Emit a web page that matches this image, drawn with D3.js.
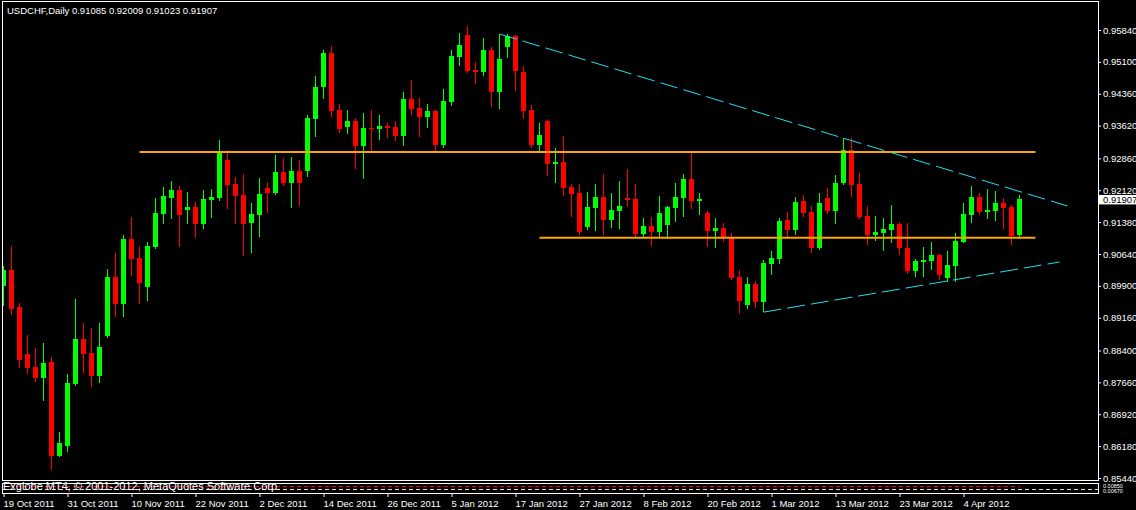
<!DOCTYPE html>
<html><head><meta charset="utf-8">
<script src="https://cdn.jsdelivr.net/npm/d3@7"></script>
<style>html,body{margin:0;padding:0;background:#000;overflow:hidden}svg{display:block}</style>
</head><body>
<svg id="c" width="1136" height="510"></svg>
<script>
const title = "USDCHF,Daily";
const opens = [
0.89897,0.90268,0.89410,0.88318,0.88017,0.87761,0.88133,0.85951,0.86183,0.87622,
0.88666,0.88341,0.87808,0.88736,0.90106,0.89479,0.90988,0.90546,0.89874,0.90803,
0.91568,0.91939,0.92125,0.91661,0.91731,0.91336,0.91893,0.91939,0.92822,0.92264,
0.92009,0.91359,0.91545,0.92171,0.92055,0.92544,0.92287,0.92567,0.92567,0.93773,
0.94517,0.95305,0.93982,0.93588,0.93727,0.93147,0.93564,0.93541,0.93611,0.93588,
0.93379,0.94238,0.94029,0.93820,0.93959,0.93170,0.94169,0.95213,0.95724,0.94911,
0.94865,0.95375,0.94401,0.95445,0.95701,0.94865,0.93982,0.93170,0.93727,0.92729,
0.92776,0.92195,0.92055,0.91267,0.91707,0.91963,0.91429,0.91638,0.91939,0.91916,
0.91104,0.91290,0.91151,0.91313,0.91707,0.91939,0.92381,0.91870,0.91591,0.91174,
0.91243,0.91011,0.90106,0.89456,0.89943,0.89526,0.90407,0.90523,0.91429,0.91197,
0.91870,0.91615,0.90779,0.91939,0.91638,0.92287,0.93054,0.92264,0.91522,0.91081,
0.91127,0.91197,0.91336,0.90779,0.90245,0.90454,0.90477,0.90616,0.90082,0.90361,
0.90919,0.91545,0.91963,0.91615,0.91638,0.91823,0.91731,0.91085];
const highs = [
0.90361,0.90826,0.89502,0.88759,0.88457,0.88573,0.88249,0.86508,0.87854,0.89595,
0.89037,0.88921,0.89037,0.90291,0.90662,0.91081,0.91499,0.90826,0.90919,0.91939,
0.92195,0.92334,0.92218,0.92079,0.91847,0.92125,0.92148,0.93286,0.93054,0.92428,
0.92497,0.91823,0.92404,0.92311,0.92938,0.92868,0.92892,0.92822,0.93866,0.94772,
0.95375,0.95468,0.94122,0.93982,0.93796,0.93912,0.93982,0.93866,0.93680,0.93727,
0.94401,0.94679,0.94261,0.94122,0.93982,0.94470,0.95375,0.95770,0.95933,0.95097,
0.95654,0.95445,0.95747,0.95747,0.95724,0.95004,0.94099,0.93680,0.93740,0.93100,
0.93379,0.92264,0.92264,0.92079,0.92264,0.92497,0.92055,0.92334,0.92613,0.92264,
0.91475,0.91499,0.91986,0.91745,0.92287,0.92497,0.92984,0.92055,0.91638,0.91475,
0.91359,0.91127,0.90268,0.90106,0.90013,0.90500,0.90709,0.91475,0.91615,0.91963,
0.92009,0.91754,0.92055,0.92171,0.92474,0.93332,0.93332,0.92520,0.91754,0.91522,
0.91475,0.91777,0.91383,0.91359,0.90523,0.90803,0.90919,0.90639,0.90709,0.91127,
0.91823,0.92218,0.92055,0.92148,0.92102,0.91939,0.91777,0.92009];
const lows = [
0.89456,0.89247,0.88017,0.87877,0.87692,0.87250,0.85648,0.85940,0.86067,0.87599,
0.87901,0.87576,0.87669,0.88713,0.89201,0.89201,0.90152,0.89502,0.89572,0.90779,
0.91359,0.91475,0.90826,0.91359,0.91035,0.91243,0.91499,0.91893,0.91707,0.91359,
0.90616,0.90686,0.91058,0.91615,0.92032,0.92241,0.91731,0.91777,0.92451,0.93379,
0.94261,0.93843,0.93472,0.93448,0.92636,0.92404,0.93031,0.93309,0.93356,0.93286,
0.93170,0.93889,0.93379,0.93588,0.93031,0.93124,0.94099,0.95027,0.94865,0.94609,
0.94795,0.94076,0.94029,0.95213,0.94447,0.93796,0.93124,0.93031,0.92474,0.92311,
0.92009,0.91522,0.91104,0.91220,0.91197,0.91104,0.91267,0.91243,0.91754,0.91058,
0.91035,0.90849,0.91035,0.91035,0.91406,0.91522,0.91707,0.91568,0.90826,0.90803,
0.90942,0.90059,0.89270,0.89386,0.89410,0.89317,0.90175,0.90430,0.91035,0.91104,
0.91522,0.90686,0.90756,0.91591,0.91359,0.92264,0.91986,0.91475,0.90872,0.90965,
0.90732,0.90919,0.90639,0.90198,0.90129,0.90129,0.90291,0.90059,0.90013,0.90013,
0.90910,0.91383,0.91568,0.91475,0.91429,0.91243,0.90872,0.91023];
const closes = [
0.90268,0.89363,0.88179,0.87993,0.87761,0.88109,0.85951,0.86252,0.87645,0.88666,
0.88318,0.87808,0.88481,0.90106,0.89479,0.90988,0.90523,0.89966,0.90826,0.91591,
0.91986,0.92125,0.91545,0.91731,0.91336,0.91916,0.91963,0.92984,0.92241,0.91986,
0.91336,0.91568,0.92032,0.92055,0.92544,0.92287,0.92567,0.92287,0.93796,0.94517,
0.95305,0.93959,0.93541,0.93727,0.93147,0.93564,0.93541,0.93611,0.93564,0.93379,
0.94238,0.94006,0.93820,0.93959,0.93170,0.94192,0.95236,0.95491,0.94888,0.94865,
0.95375,0.94401,0.95166,0.95701,0.94888,0.93959,0.93170,0.93402,0.92729,0.92776,
0.92171,0.92032,0.91151,0.91731,0.91963,0.91429,0.91661,0.91754,0.91893,0.91104,
0.91290,0.91151,0.91591,0.91731,0.91963,0.92381,0.91870,0.91916,0.91174,0.91243,
0.91035,0.90082,0.89549,0.89943,0.89526,0.90430,0.90546,0.91406,0.91197,0.91847,
0.91591,0.90779,0.91823,0.91638,0.92287,0.93054,0.92241,0.91499,0.91081,0.91151,
0.91220,0.91336,0.90779,0.90245,0.90477,0.90500,0.90616,0.90152,0.90384,0.90942,
0.91568,0.91963,0.91615,0.91661,0.91823,0.91707,0.91058,0.91907];
const dateLabels = ["19 Oct 2011","31 Oct 2011","10 Nov 2011","22 Nov 2011","2 Dec 2011","14 Dec 2011","26 Dec 2011","5 Jan 2012","17 Jan 2012","27 Jan 2012","8 Feb 2012","20 Feb 2012","1 Mar 2012","13 Mar 2012","23 Mar 2012","4 Apr 2012"];
const dateLabelBars = [0,8,16,24,32,40,48,56,64,72,80,88,96,104,112,120];
const priceTicks = [0.95840,0.95100,0.94360,0.93620,0.92860,0.92120,0.91380,0.90640,0.89900,0.89160,0.88400,0.87660,0.86920,0.86180,0.85440];
const levelPrices = [0.93010, 0.91020];
const levelStartBars = [17, 67];
const levelEndBar = 129;
const trendStartBars = [62, 95];
const trendStartPrices = [0.95747, 0.89290];
const trendEndBars = [133, 132];
const trendEndPrices = [0.91754, 0.90454];
const indicatorLabels = ["0.00850","0.00670"];

const W = 1136, H = 510;
const L = 2, R = 1098, T = 1, B = 480;
const FONT = "'Liberation Sans', Arial, sans-serif";
const svg = d3.select("#c");
svg.append("rect").attr("width",W).attr("height",H).attr("fill","#000");

const n = opens.length;
const x = d3.scaleLinear().domain([0, n-1]).range([3.5, 3.5 + 8*(n-1)]);
const y = d3.scaleLinear().domain([0.8544, 0.9584]).range([478, 30]);

svg.append("clipPath").attr("id","plot").append("rect").attr("x",L+1).attr("y",T+1).attr("width",R-L-1).attr("height",B-T-1);
const g = svg.append("g").attr("clip-path","url(#plot)");

const bars = d3.range(n).map(i => ({i, o:opens[i], h:highs[i], l:lows[i], c:closes[i]}));
const col = d => d.c >= d.o ? "#00FF00" : "#FF0000";
g.selectAll("line.wick").data(bars).join("line")
  .attr("x1", d => x(d.i)).attr("x2", d => x(d.i))
  .attr("y1", d => Math.round(y(d.h))).attr("y2", d => Math.round(y(d.l)) + 1)
  .attr("stroke", col).attr("stroke-width",1).attr("shape-rendering","crispEdges");
g.selectAll("rect.body").data(bars).join("rect")
  .attr("x", d => x(d.i) - 2.5).attr("width", 5)
  .attr("y", d => Math.round(y(Math.max(d.o,d.c))))
  .attr("height", d => Math.max(1, Math.round(y(Math.min(d.o,d.c))) - Math.round(y(Math.max(d.o,d.c)))))
  .attr("fill", col).attr("shape-rendering","crispEdges");

// horizontal levels
g.selectAll("line.level").data(levelPrices).join("line")
  .attr("x1", (d,i) => x(levelStartBars[i])).attr("x2", x(levelEndBar))
  .attr("y1", d => y(d)).attr("y2", d => y(d))
  .attr("stroke","#FFA500").attr("stroke-width",2);

// trend lines
g.selectAll("line.trend").data(trendStartBars).join("line")
  .attr("x1", (d) => x(d)).attr("y1", (d,i) => y(trendStartPrices[i]))
  .attr("x2", (d,i) => x(trendEndBars[i])).attr("y2", (d,i) => y(trendEndPrices[i]))
  .attr("stroke","#1EE0F0").attr("stroke-width",1).attr("stroke-dasharray","18,6");

// frames
svg.append("rect").attr("x",L+0.5).attr("y",T+0.5).attr("width",R-L).attr("height",B-T)
  .attr("fill","none").attr("stroke","#fff").attr("shape-rendering","crispEdges");
svg.append("rect").attr("x",L+0.5).attr("y",483.5).attr("width",R-L).attr("height",10)
  .attr("fill","none").attr("stroke","#fff").attr("shape-rendering","crispEdges");
// indicator subwindow lines
svg.append("line").attr("x1",L+1).attr("x2",1020).attr("y1",486.5).attr("y2",486.5)
  .attr("stroke","#FF0000").attr("stroke-dasharray","4,3");
svg.append("line").attr("x1",L+1).attr("x2",R).attr("y1",489.5).attr("y2",489.5)
  .attr("stroke","#ddd").attr("stroke-dasharray","4,3");
svg.append("text").attr("x",3).attr("y",489.5).attr("fill","#fff")
  .attr("font-family",FONT).attr("font-size","11px")
  .text("Exglobe MT4, \u00A9 2001-2012, MetaQuotes Software Corp.");

// y axis
const ya = svg.append("g").attr("transform",`translate(${R},0)`)
  .call(d3.axisRight(y).tickValues(priceTicks).tickFormat(d3.format(".5f")).tickSize(3).tickPadding(2));
ya.select(".domain").remove();
ya.selectAll("line").attr("stroke","#fff");
ya.selectAll("text").attr("fill","#fff").attr("font-family",FONT).attr("font-size","9.5px");

// indicator axis labels (tiny subwindow)
svg.selectAll("text.ind").data(indicatorLabels).join("text")
  .attr("x",1103).attr("y",(d,i)=>488 + i*5).attr("fill","#fff")
  .attr("font-family",FONT).attr("font-size","5.5px").text(d=>d);

// current price label
const last = closes[n-1];
svg.append("rect").attr("x",1099).attr("y",y(last)-4.5).attr("width",37).attr("height",9.5).attr("fill","#fff");
svg.append("text").attr("x",1103).attr("y",y(last)).attr("dy","0.34em").attr("fill","#000")
  .attr("font-family",FONT).attr("font-size","9.5px").text(d3.format(".5f")(last));

// x axis
const xa = svg.append("g").attr("transform","translate(0,494)")
  .call(d3.axisBottom(x).tickValues(dateLabelBars).tickFormat((d,i)=>dateLabels[i]).tickSize(3).tickPadding(3));
xa.select(".domain").remove();
xa.selectAll("line").attr("stroke","#fff");
xa.selectAll("text").attr("fill","#fff").attr("text-anchor","start").attr("x",-0.5)
  .attr("font-family",FONT).attr("font-size","9.5px");

// title
svg.append("text").attr("x",7).attr("y",14).attr("fill","#fff")
  .attr("font-family",FONT).attr("font-size","9.5px")
  .text(`${title}  ${d3.format(".5f")(opens[n-1])} ${d3.format(".5f")(highs[n-1])} ${d3.format(".5f")(lows[n-1])} ${d3.format(".5f")(closes[n-1])}`);
</script>
</body></html>
